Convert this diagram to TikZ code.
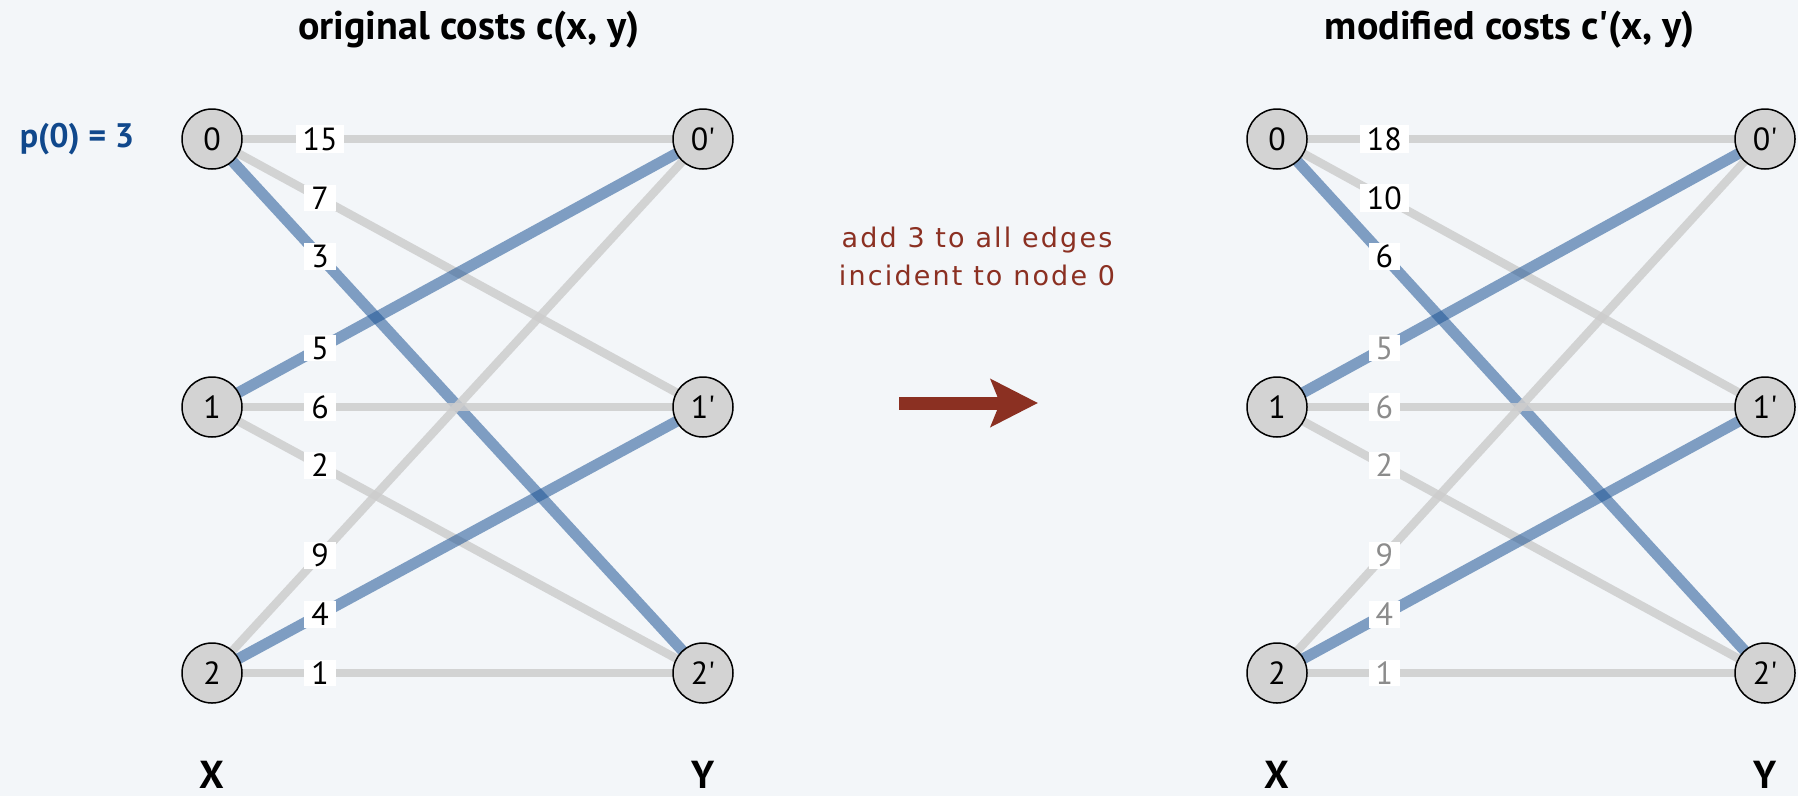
\documentclass[tikz,border=0pt]{standalone}
\usepackage{fontspec}
\setmainfont{PT Sans}
\newfontfamily\midfont{DejaVu Sans}[LetterSpace=8]
\usetikzlibrary{arrows.meta}
\definecolor{bgc}{RGB}{243,246,249}
\definecolor{edgegray}{RGB}{205,205,205}
\definecolor{edgeblue}{RGB}{30,85,150}
\definecolor{nodegray}{RGB}{211,211,211}
\definecolor{lblgray}{RGB}{140,140,140}
\definecolor{pblue}{RGB}{16,72,140}
\definecolor{darkred}{RGB}{139,48,34}
\pgfdeclarelayer{bglayer}
\pgfdeclarelayer{edgelayer}
\pgfsetlayers{bglayer,edgelayer,main}
\tikzset{
  vert/.style={circle, draw=black, line width=1.5pt, fill=nodegray, minimum size=60pt, inner sep=0pt, font=\fontsize{32}{34}\selectfont},
  gedge/.style={draw=edgegray, line width=8.5pt, draw opacity=0.85},
  bedge/.style={draw=edgeblue, line width=11pt, draw opacity=0.55},
  elabel/.style={fill=white, inner xsep=7pt, inner ysep=2pt, pos=0.22, font=\fontsize{32}{34}\selectfont},
  glabel/.style={elabel, text=lblgray},
  titletext/.style={anchor=base, font=\fontsize{40}{44}\selectfont\bfseries},
  sidetext/.style={anchor=base, font=\fontsize{39}{42}\selectfont\bfseries},
}
\begin{document}
\begin{tikzpicture}[x=1pt,y=-1pt]
\begin{pgfonlayer}{bglayer}
\fill[bgc] (0,0) rectangle (1798,796);
\end{pgfonlayer}
\useasboundingbox (0,0) rectangle (1798,796);

% titles
\node[titletext] (t1) at (469,39) {original costs c(x, y)};
\node[titletext] (t2) at (1510,39) {modified costs c\textquotesingle(x, y)};

% left graph nodes
\node[vert] (L0) at (212,139) {0};
\node[vert] (L1) at (212,407) {1};
\node[vert] (L2) at (212,673) {2};
\node[vert] (L0p) at (703,139) {0\textquotesingle};
\node[vert] (L1p) at (703,407) {1\textquotesingle};
\node[vert] (L2p) at (703,673) {2\textquotesingle};

% right graph nodes
\node[vert] (R0) at (1277,139) {0};
\node[vert] (R1) at (1277,407) {1};
\node[vert] (R2) at (1277,673) {2};
\node[vert] (R0p) at (1765,139) {0\textquotesingle};
\node[vert] (R1p) at (1765,407) {1\textquotesingle};
\node[vert] (R2p) at (1765,673) {2\textquotesingle};

\node[font=\fontsize{34}{36}\selectfont\bfseries, text=pblue] (p0) at (77,139) {p(0) = 3};

\node[sidetext] (LX) at (212,788) {X};
\node[sidetext] (LY) at (703,788) {Y};
\node[sidetext] (RX) at (1277,788) {X};
\node[sidetext] (RY) at (1765,788) {Y};

\begin{pgfonlayer}{edgelayer}
% left edges
\draw[gedge] (L0.center) -- node[elabel]{15} (L0p.center);
\draw[gedge] (L0.center) -- node[elabel]{7} (L1p.center);
\draw[bedge] (L0.center) -- node[elabel]{3} (L2p.center);
\draw[bedge] (L1.center) -- node[elabel]{5} (L0p.center);
\draw[gedge] (L1.center) -- node[elabel]{6} (L1p.center);
\draw[gedge] (L1.center) -- node[elabel]{2} (L2p.center);
\draw[gedge] (L2.center) -- node[elabel]{9} (L0p.center);
\draw[bedge] (L2.center) -- node[elabel]{4} (L1p.center);
\draw[gedge] (L2.center) -- node[elabel]{1} (L2p.center);
% right edges
\draw[gedge] (R0.center) -- node[elabel]{18} (R0p.center);
\draw[gedge] (R0.center) -- node[elabel]{10} (R1p.center);
\draw[bedge] (R0.center) -- node[elabel]{6} (R2p.center);
\draw[bedge] (R1.center) -- node[glabel]{5} (R0p.center);
\draw[gedge] (R1.center) -- node[glabel]{6} (R1p.center);
\draw[gedge] (R1.center) -- node[glabel]{2} (R2p.center);
\draw[gedge] (R2.center) -- node[glabel]{9} (R0p.center);
\draw[bedge] (R2.center) -- node[glabel]{4} (R1p.center);
\draw[gedge] (R2.center) -- node[glabel]{1} (R2p.center);
\end{pgfonlayer}

% middle
\node[text=darkred, align=center, font=\midfont\fontsize{27}{38}\selectfont, anchor=base] (mid) at (977,285) {add 3 to all edges\\incident to node 0};
\coordinate (arrS) at (899,403);
\coordinate (arrE) at (1038,403);
\draw[darkred, line width=13pt, -{Stealth[length=47pt, width=47pt, inset=9pt]}] (arrS) -- (arrE);
\end{tikzpicture}
\end{document}
